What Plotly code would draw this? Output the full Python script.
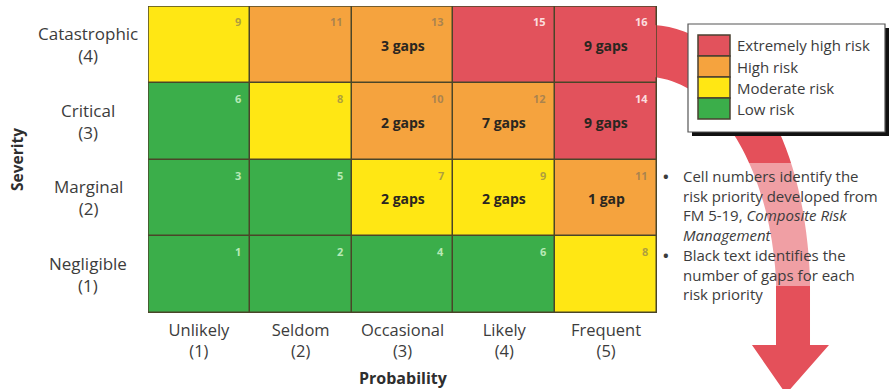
import plotly.graph_objects as go

# ---- data -------------------------------------------------------------
probability = ["Unlikely", "Seldom", "Occasional", "Likely", "Frequent"]
severity = ["Negligible", "Marginal", "Critical", "Catastrophic"]  # bottom -> top

# risk priority number per cell (rows bottom -> top)
priority = [
    [1, 2, 4, 6, 8],
    [3, 5, 7, 9, 11],
    [6, 8, 10, 12, 14],
    [9, 11, 13, 15, 16],
]
# risk level per cell: 0 low, 1 moderate, 2 high, 3 extremely high
level = [
    [0, 0, 0, 0, 1],
    [0, 0, 1, 1, 2],
    [0, 1, 2, 2, 3],
    [1, 2, 2, 3, 3],
]
# number of gaps per cell (0 = none)
gaps = [
    [0, 0, 0, 0, 0],
    [0, 0, 2, 2, 1],
    [0, 0, 2, 7, 9],
    [0, 0, 3, 0, 9],
]
legend_names = ["Extremely high risk", "High risk", "Moderate risk", "Low risk"]
legend_levels = [3, 2, 1, 0]

GREEN, YELLOW, ORANGE, RED = "#3BAE4A", "#FFE714", "#F5A33E", "#E2525C"
level_colors = [GREEN, YELLOW, ORANGE, RED]
GRID = "#4a4528"
ARROW = "#E4505A"
FONT = "Open Sans"
TEXT = "#3c3c3c"

# ---- plot-area geometry (pixels) ---------------------------------------
FW, FH = 891, 389
L, R, T, B = 148, 657, 6, 313
W, H = R - L, B - T


def px(x):
    return (x - L) / W


def py(y):
    return (B - y) / H


fig = go.Figure()

fig.add_trace(go.Heatmap(
    z=level,
    x=list(range(len(probability))),
    y=list(range(len(severity))),
    zmin=0, zmax=3,
    colorscale=[[0, GREEN], [0.1667, GREEN], [0.1667, YELLOW], [0.5, YELLOW],
                [0.5, ORANGE], [0.8333, ORANGE], [0.8333, RED], [1, RED]],
    showscale=False,
    xgap=1.5, ygap=1.5,
    hoverinfo="skip",
))

annotations = []
for r, row in enumerate(priority):
    for c, num in enumerate(row):
        lv = level[r][c]
        if lv == 0:
            ncol = "rgba(225,255,220,0.75)"
        elif lv == 3:
            ncol = "rgba(255,240,240,0.9)"
        else:
            ncol = "rgba(120,110,90,0.6)"
        annotations.append(dict(
            x=c + 0.5, y=r + 0.5, xref="x", yref="y",
            text=f"<b>{num}</b>", showarrow=False,
            xanchor="right", yanchor="top", xshift=-7, yshift=-6,
            font=dict(family=FONT, size=11, color=ncol),
        ))
        g = gaps[r][c]
        if g:
            annotations.append(dict(
                x=c, y=r, xref="x", yref="y",
                text=f"<b>{g} gap{'s' if g != 1 else ''}</b>", showarrow=False,
                yshift=-1,
                font=dict(family=FONT, size=14, color="#2a2620"),
            ))

# severity labels, centred blocks left of the grid
for r, name in enumerate(severity):
    annotations.append(dict(
        x=px(88), y=r, xref="paper", yref="y",
        text=f"{name}<br>({r + 1})", showarrow=False, align="center",
        xanchor="center", yanchor="middle",
        font=dict(family=FONT, size=17, color=TEXT),
    ))

annotations.append(dict(
    x=px(17), y=py(160), xref="paper", yref="paper", text="<b>Severity</b>",
    textangle=-90, showarrow=False, xanchor="center", yanchor="middle",
    font=dict(family=FONT, size=15.5, color="#2e2e2e"),
))
annotations.append(dict(
    x=px(403), y=py(378), xref="paper", yref="paper", text="<b>Probability</b>",
    showarrow=False, xanchor="center", yanchor="middle",
    font=dict(family=FONT, size=16, color="#2e2e2e"),
))

# ---- decorative arrow, legend box and notes ------------------------------
def path(points):
    out = []
    for cmd, pts in points:
        coords = " ".join(f"{px(x):.4f},{py(y):.4f}" for x, y in pts)
        out.append(f"{cmd} {coords}")
    return " ".join(out) + " Z"


arrow_path = path([
    ("M", [(654, 25)]),
    ("C", [(730, 30), (805, 120), (810, 280)]),
    ("L", [(810, 345)]),
    ("L", [(829, 345)]),
    ("L", [(786, 394)]),
    ("L", [(752, 345)]),
    ("L", [(776, 345)]),
    ("L", [(776, 280)]),
    ("C", [(770, 170), (720, 85), (654, 77)]),
])

shapes = [
    dict(type="path", path=arrow_path, xref="paper", yref="paper",
         fillcolor=ARROW, line=dict(width=0), layer="below"),
    # pale veil behind the notes
    dict(type="rect", xref="paper", yref="paper",
         x0=px(662), x1=px(891), y0=py(163), y1=py(286),
         fillcolor="rgba(255,255,255,0.45)", line=dict(width=0)),
    # legend box shadow and frame
    dict(type="rect", xref="paper", yref="paper",
         x0=px(692), x1=px(889), y0=py(28), y1=py(136),
         fillcolor="#111111", line=dict(width=0)),
    dict(type="rect", xref="paper", yref="paper",
         x0=px(688), x1=px(885), y0=py(24), y1=py(132),
         fillcolor="white", line=dict(color="#555555", width=1.2)),
    # outer frame of the matrix
    dict(type="rect", xref="x", yref="y", x0=-0.5, x1=4.5, y0=-0.5, y1=3.5,
         line=dict(color=GRID, width=1.5)),
]

sw_top, sw_h = 35, 21
for i, (name, lv) in enumerate(zip(legend_names, legend_levels)):
    y0 = sw_top + i * sw_h
    shapes.append(dict(
        type="rect", xref="paper", yref="paper",
        x0=px(698), x1=px(730), y0=py(y0), y1=py(y0 + sw_h),
        fillcolor=level_colors[lv], line=dict(color="#4a4030", width=1.5),
    ))
    annotations.append(dict(
        x=px(735), y=py(y0 + sw_h / 2), xref="paper", yref="paper",
        text=name, showarrow=False, xanchor="left", yanchor="middle",
        font=dict(family=FONT, size=15, color=TEXT),
    ))

notes = [
    (164, "Cell numbers identify the<br>risk priority developed from<br>"
          "FM 5-19, <i>Composite Risk</i><br><i>Management</i>"),
    (243, "Black text identifies the<br>number of gaps for each<br>risk priority"),
]
for top, txt in notes:
    annotations.append(dict(
        x=px(681), y=py(top), xref="paper", yref="paper", text=txt,
        showarrow=False, xanchor="left", yanchor="top", align="left",
        font=dict(family=FONT, size=15, color=TEXT),
    ))
    annotations.append(dict(
        x=px(661), y=py(top), xref="paper", yref="paper", text="<b>•</b>",
        showarrow=False, xanchor="left", yanchor="top",
        font=dict(family=FONT, size=15, color=TEXT),
    ))

fig.update_layout(
    width=FW, height=FH,
    margin=dict(l=L, r=FW - R, t=T, b=FH - B),
    paper_bgcolor="white", plot_bgcolor=GRID,
    font=dict(family=FONT),
    showlegend=False,
    shapes=shapes,
    annotations=annotations,
    xaxis=dict(
        range=[-0.5, 4.5], tickvals=list(range(len(probability))),
        ticktext=[f"{p}<br>({i + 1})" for i, p in enumerate(probability)],
        tickfont=dict(family=FONT, size=16.5, color=TEXT),
        showgrid=False, zeroline=False, ticks="", fixedrange=True,
        ticklabelstandoff=5,
    ),
    yaxis=dict(
        range=[-0.5, 3.5], showticklabels=False,
        showgrid=False, zeroline=False, ticks="", fixedrange=True,
    ),
)

fig.write_html("out.html")
